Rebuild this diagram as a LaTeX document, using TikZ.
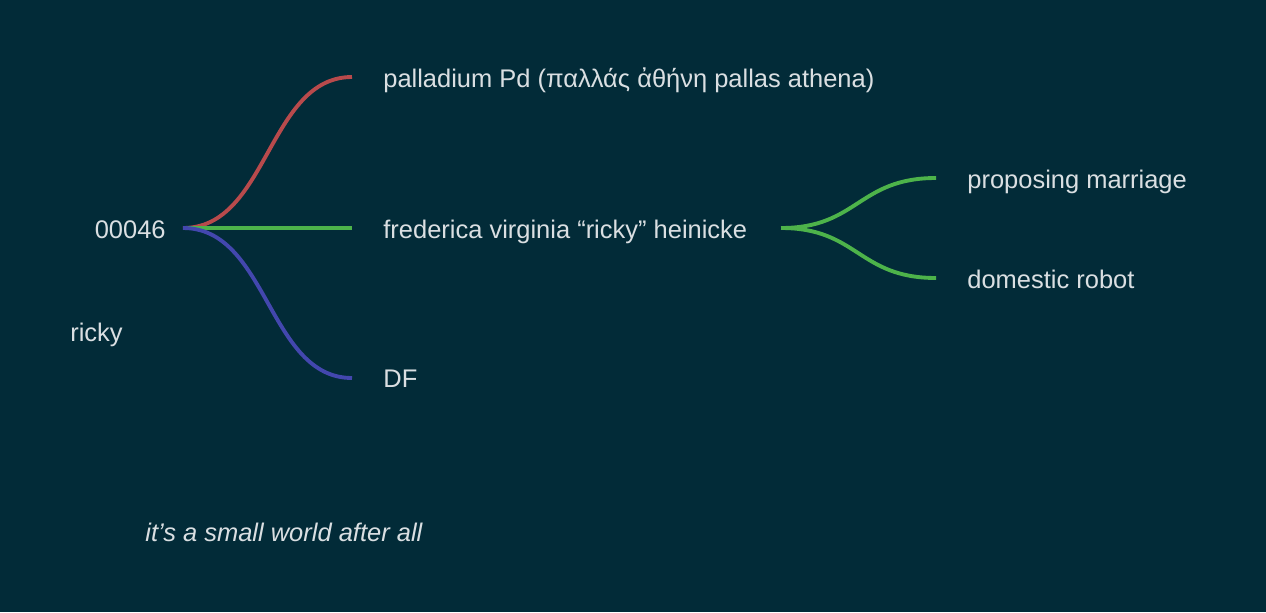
\documentclass[tikz,border=0pt]{standalone}
\usepackage{fontspec}
\setmainfont{Liberation Sans}
\usetikzlibrary{positioning}

\definecolor{fond}{HTML}{022B38}
\definecolor{texte}{HTML}{DADFE2}
\definecolor{rouge}{HTML}{B84A4C}
\definecolor{vert}{HTML}{4DB34A}
\definecolor{bleu}{HTML}{4347AE}

\tikzset{
  etiquette/.style={text=texte, inner sep=0pt, font=\fontsize{14.5}{17}\selectfont},
  branche/.style={line width=2.2pt, line cap=butt},
}

\begin{document}
\begin{tikzpicture}[x=0.02cm, y=-0.02cm]

% Fond
\fill[fond] (0,0) rectangle (1266,612);

% Racine
\node[etiquette, anchor=base east] (racine) at (166,238) {00046};
\node[etiquette, anchor=base west] (surnom) at (70,341) {ricky};
\coordinate (r0) at (183,228);

% Premier niveau
\coordinate (b1) at (352,77);
\coordinate (b2) at (352,228);
\coordinate (b3) at (352,378);
\node[etiquette, anchor=base west] (pd) at (383,87) {palladium Pd (παλλάς ἀθήνη pallas athena)};
\node[etiquette, anchor=base west] (ricky) at (383,238) {frederica virginia “ricky” heinicke};
\node[etiquette, anchor=base west] (df) at (383,387) {DF};

\draw[branche, rouge] (r0) .. controls (268,228) and (268,77) .. (b1);
\draw[branche, vert] (r0) -- (b2);
\draw[branche, bleu] (r0) .. controls (268,228) and (268,378) .. (b3);

% Second niveau
\coordinate (r1) at (781,228);
\coordinate (c1) at (936,178);
\coordinate (c2) at (936,278);
\node[etiquette, anchor=base west] (mariage) at (967,188) {proposing marriage};
\node[etiquette, anchor=base west] (robot) at (967,288) {domestic robot};

\draw[branche, vert] (r1) .. controls (858,228) and (858,178) .. (c1);
\draw[branche, vert] (r1) .. controls (858,228) and (858,278) .. (c2);

% Note
\node[etiquette, anchor=base west, font=\fontsize{14.5}{17}\selectfont\itshape] (note) at (145,541) {it’s a small world after all};

\end{tikzpicture}
\end{document}
